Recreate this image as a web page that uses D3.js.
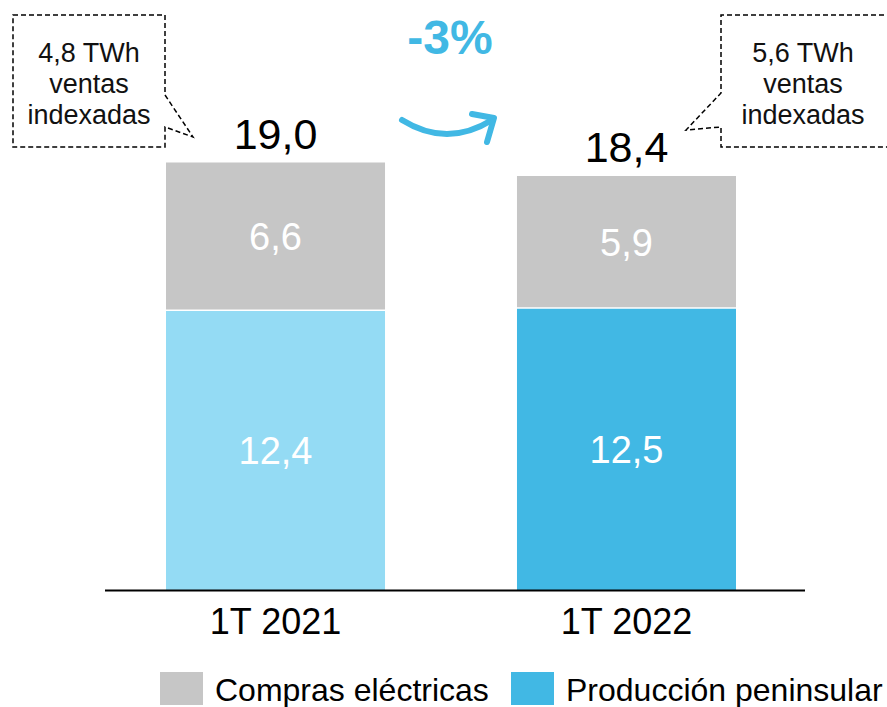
<!DOCTYPE html>
<html><head><meta charset="utf-8">
<script src="https://cdn.jsdelivr.net/npm/d3@7"></script>
<style>body{margin:0;background:#fff}text{font-family:"Liberation Sans",Arial,sans-serif}</style>
</head><body><svg id="c" width="887" height="707"></svg>
<script>
const categories = ["1T 2021", "1T 2022"];
const produccion = [12.4, 12.5];
const compras = [6.6, 5.9];
const totals = ["19,0", "18,4"];
const seriesNames = ["Compras eléctricas", "Producción peninsular"];
const calloutTexts = [["4,8 TWh", "ventas", "indexadas"], ["5,6 TWh", "ventas", "indexadas"]];
const changeLabel = "-3%";

const fmt = v => v.toFixed(1).replace(".", ",");
const svg = d3.select("#c");
const x = d3.scaleBand().domain(categories).range([166, 736]).paddingInner(0.376).paddingOuter(0);
const y = d3.scaleLinear().domain([0, 20]).range([590, 140]);
const prodColors = ["#94dbf4", "#41b8e4"];
const grey = "#c6c6c6";

// bars
categories.forEach((c, i) => {
  const g = svg.append("g");
  g.append("rect").attr("x", x(c)).attr("width", x.bandwidth())
    .attr("y", y(produccion[i])).attr("height", y(0) - y(produccion[i]))
    .attr("fill", prodColors[i]);
  g.append("rect").attr("x", x(c)).attr("width", x.bandwidth())
    .attr("y", y(produccion[i] + compras[i])).attr("height", y(produccion[i]) - y(produccion[i] + compras[i]) - 1.5)
    .attr("fill", grey);
  const cx = x(c) + x.bandwidth() / 2;
  g.append("text").attr("x", cx).attr("y", y(produccion[i] / 2)).attr("dy", "0.35em")
    .attr("text-anchor", "middle").attr("fill", "#fff").attr("font-size", 38).text(fmt(produccion[i]));
  g.append("text").attr("x", cx).attr("y", y(produccion[i] + compras[i] / 2)).attr("dy", "0.35em")
    .attr("text-anchor", "middle").attr("fill", "#fff").attr("font-size", 38).text(fmt(compras[i]));
  g.append("text").attr("x", cx).attr("y", y(produccion[i] + compras[i]) - 14)
    .attr("text-anchor", "middle").attr("fill", "#000").attr("font-size", 43).text(totals[i]);
});

// axis
const ax = svg.append("g").attr("transform", "translate(0,590)")
  .call(d3.axisBottom(x).tickSize(0).tickPadding(18));
ax.select(".domain").attr("d", "M105,0.5H805").attr("stroke", "#000").attr("stroke-width", 2);
ax.selectAll("text").attr("font-size", 36).attr("fill", "#000")
  .style("font-family", '"Liberation Sans",Arial,sans-serif');

// change label + arrow
svg.append("text").attr("x", 450).attr("y", 54).attr("text-anchor", "middle")
  .attr("font-size", 48).attr("font-weight", "bold").attr("fill", "#41b8e4").text(changeLabel);
svg.append("path").attr("d", "M402,120 Q447,148 492,120").attr("fill", "none")
  .attr("stroke", "#41b8e4").attr("stroke-width", 6).attr("stroke-linecap", "round");
svg.append("path").attr("d", "M472,114 L494,118 L487,142").attr("fill", "none")
  .attr("stroke", "#41b8e4").attr("stroke-width", 6).attr("stroke-linecap", "round").attr("stroke-linejoin", "round");

// callouts
const dash = "5,3";
svg.append("path").attr("d", "M13,15 H165 V95 L193,137 L165,127 V147 H13 Z")
  .attr("fill", "#fff").attr("stroke", "#000").attr("stroke-width", 1.5).attr("stroke-dasharray", dash);
svg.append("path").attr("d", "M900,15 H721 V93 L686,130 L721,127 V147 H900")
  .attr("fill", "#fff").attr("stroke", "#000").attr("stroke-width", 1.5).attr("stroke-dasharray", dash);
[[89, calloutTexts[0]], [803, calloutTexts[1]]].forEach(([cx, lines]) => {
  lines.forEach((t, j) => {
    svg.append("text").attr("x", cx).attr("y", 53 + j * 31).attr("dy", "0.35em")
      .attr("text-anchor", "middle").attr("font-size", 27).attr("fill", "#111").text(t);
  });
});

// legend
const legColors = [grey, "#41b8e4"];
const legX = [160, 511];
seriesNames.forEach((n, i) => {
  svg.append("rect").attr("x", legX[i]).attr("y", 672).attr("width", 43).attr("height", 33).attr("fill", legColors[i]);
  svg.append("text").attr("x", legX[i] + 55).attr("y", 690).attr("dy", "0.35em")
    .attr("font-size", 32).attr("fill", "#000").text(n);
});
</script></body></html>
